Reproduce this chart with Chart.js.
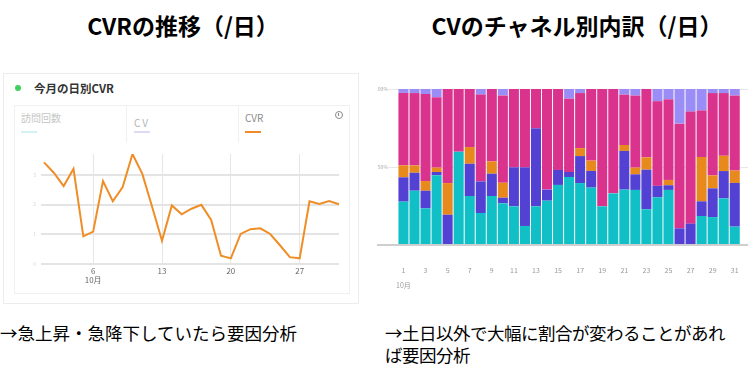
<!DOCTYPE html>
<html><head><meta charset="utf-8">
<script src="https://cdn.jsdelivr.net/npm/chart.js@4.4.1/dist/chart.umd.min.js"></script>
<style>
html,body{margin:0;padding:0;}
body{width:750px;height:381px;background:#fff;position:relative;overflow:hidden;font-family:"Noto Sans CJK JP","Noto Sans",sans-serif;color:#000;}
.a{position:absolute;white-space:nowrap;}
.title{font-weight:bold;font-size:23px;line-height:23px;text-align:center;width:340px;}
.cap{font-size:17.5px;line-height:22px;}
</style></head><body>

<div class="a title" style="left:13px;top:14px;">CVRの推移（/日）</div>
<div class="a title" style="left:407px;top:14px;">CVのチャネル別内訳（/日）</div>

<!-- left card -->
<div class="a" style="left:3px;top:73px;width:356px;height:231px;border:1px solid #ececec;box-sizing:border-box;"></div>
<div class="a" style="left:15px;top:85px;width:6px;height:6px;border-radius:50%;background:#3fd15e;"></div>
<div class="a" style="left:34px;top:81px;font-size:11.5px;line-height:14px;font-weight:bold;color:#333;">今月の日別CVR</div>
<div class="a" style="left:14px;top:105px;width:336px;height:189px;border:1px solid #f0f0f0;box-sizing:border-box;"></div>
<div class="a" style="left:126px;top:106px;width:1px;height:37px;background:#f0f0f0;"></div>
<div class="a" style="left:238px;top:106px;width:1px;height:37px;background:#f0f0f0;"></div>
<div class="a" style="left:21px;top:112px;font-size:10px;line-height:12px;color:#c6c6c6;">訪問回数</div>
<div class="a" style="left:134px;top:117px;font-size:10px;line-height:12px;color:#b3b3b3;letter-spacing:2px;">CV</div>
<div class="a" style="left:245px;top:112px;font-size:10px;line-height:12px;color:#8a8a8a;">CVR</div>
<div class="a" style="left:21px;top:131px;width:16px;height:2px;background:#d4f2f2;"></div>
<div class="a" style="left:134px;top:131px;width:16px;height:2px;background:#dedaf6;"></div>
<div class="a" style="left:245px;top:131px;width:16px;height:2px;background:#f08a26;"></div>
<div class="a" style="left:335px;top:111px;width:6px;height:6px;border:1px solid #8a8a8a;border-radius:50%;"></div>
<div class="a" style="left:338px;top:113px;width:1px;height:3px;background:#8a8a8a;"></div>

<div class="a" style="left:14px;top:143px;width:335px;height:150px;"><canvas id="c1"></canvas></div>
<div class="a" style="left:365px;top:80px;width:385px;height:210px;"><canvas id="c2"></canvas></div>

<div class="a cap" style="left:0px;top:322px;">→急上昇・急降下していたら要因分析</div>
<div class="a cap" style="left:385px;top:322px;letter-spacing:-0.5px;">→土日以外で大幅に割合が変わることがあれ<br>ば要因分析</div>

<script>
// ---- data ----
const days = [1,2,3,4,5,6,7,8,9,10,11,12,13,14,15,16,17,18,19,20,21,22,23,24,25,26,27,28,29,30,31];
const monthLabel = '10月';
// left: daily CVR
const cvr = [3.42,3.07,2.62,3.20,0.93,1.09,2.79,2.11,2.59,3.70,3.03,1.92,0.78,1.97,1.67,1.86,1.99,1.48,0.28,0.19,1.01,1.17,1.20,1.01,0.63,0.23,0.19,2.11,2.02,2.12,2.01];
const cvrTickDays = [6,13,20,27];
const cvrYTicks = [0,1,2,3];
// right: channel share of CV (%), bottom to top
const chTeal    = [27.8,34.8,23.5,44.7,0,59.8,31.4,20.5,31.4,26.7,24.8,12.2,24.8,28.4,38.5,43.6,39.7,36.8,24.8,33.1,35.5,35.3,22.9,30.6,35.3,0,0,18.6,17.9,29.9,11.8];
const chBlue    = [15.6,11.5,11.3,2.1,19.4,0,20.7,20.3,14.3,3.6,25.0,37.6,50.0,7.1,9.6,3.2,17.3,10.7,0,0,24.8,10.0,25.4,7.3,3.0,10.7,13.7,9.4,18.4,17.5,28.0];
const chOrange  = [7.7,4.7,6.2,2.8,20.3,0,10.7,0,7.9,9.6,0,0,0,0,0,0,5.1,6.6,0,0,3.8,4.3,7.9,0,3.4,0,0,28.4,8.3,9.8,7.9];
const chMagenta = [46.4,46.4,55.8,45.1,60.3,40.2,37.2,55.6,46.4,56.0,50.2,50.2,25.2,64.5,51.9,47.0,35.3,45.9,75.2,66.9,32.3,46.2,43.8,54.3,51.7,67.1,71.8,29.9,52.8,40.2,48.1];
const chLavender= [2.6,2.6,3.2,5.3,0,0,0,3.6,0,4.1,0,0,0,0,0,6.2,2.6,0,0,0,3.6,4.3,0,7.9,6.6,22.2,14.5,13.7,2.6,2.6,4.3];
const chNames = ['チャネルA','チャネルB','チャネルC','チャネルD','チャネルE'];
const shareTickDays = [1,3,5,7,9,11,13,15,17,19,21,23,25,27,29,31];
const shareYTicks = [0,50,100];

const FONT = '"Noto Sans CJK JP","Noto Sans",sans-serif';
Chart.defaults.font.family = FONT;
Chart.defaults.animation = false;

// ---- left chart ----
new Chart(document.getElementById('c1'), {
  type: 'line',
  data: {
    labels: days.map(String),
    datasets: [{
      data: cvr, borderColor: '#ef8d27', borderWidth: 2, pointRadius: 0,
      tension: 0, fill: false
    }]
  },
  options: {
    responsive: true, maintainAspectRatio: false,
    layout: { padding: { left: 0, right: 10, top: 11, bottom: 0 } },
    plugins: { legend: { display: false }, tooltip: { enabled: false } },
    scales: {
      x: {
        offset: false,
        border: { display: false },
        grid: {
          drawTicks: false, lineWidth: 1,
          color: c => (c.index !== undefined && cvrTickDays.includes(days[c.index])) ? '#e6e6e6' : 'rgba(0,0,0,0)'
        },
        ticks: {
          autoSkip: false, maxRotation: 0, padding: 2, color: '#666',
          font: { size: 8 },
          callback: (v, i) => {
            const d = days[i];
            if (!cvrTickDays.includes(d)) return '';
            return d === cvrTickDays[0] ? [String(d), monthLabel] : String(d);
          }
        },
        afterFit: s => { s.height = 29; }
      },
      y: {
        min: 0, max: 3.7,
        border: { display: false },
        afterBuildTicks: s => { s.ticks = cvrYTicks.map(v => ({ value: v })); },
        grid: { color: '#e4e4e4', lineWidth: 2, drawTicks: true, tickLength: 3, tickColor: '#e4e4e4' },
        ticks: { color: '#d6d6d6', font: { size: 5 }, padding: 5, callback: v => String(v) },
        afterFit: s => { s.width = 30; }
      }
    }
  }
});

// ---- right chart ----
const chColors = ['#10c0c6','#5241d3','#e8891d','#d9338e','#9a8ef6'];
const chSeries = [chTeal, chBlue, chOrange, chMagenta, chLavender];
new Chart(document.getElementById('c2'), {
  type: 'bar',
  data: {
    datasets: chSeries.map((arr, k) => ({
      label: chNames[k],
      data: days.map((d, i) => ({ x: d, y: arr[i] })),
      backgroundColor: chColors[k],
      borderWidth: 0,
      stack: 'share',
      barPercentage: 1,
      categoryPercentage: 0.91
    }))
  },
  options: {
    responsive: true, maintainAspectRatio: false,
    layout: { padding: { left: 12, right: 2, top: 9, bottom: 0 } },
    plugins: { legend: { display: false }, tooltip: { enabled: false } },
    scales: {
      x: {
        type: 'linear', min: -0.4, max: 32.2, offset: false,
        border: { display: false },
        grid: { display: false, offset: false },
        afterBuildTicks: s => { s.ticks = shareTickDays.map(v => ({ value: v })); },
        ticks: {
          autoSkip: false, maxRotation: 0, padding: 10, color: '#9a9a9a',
          font: { size: 7, lineHeight: 2.14 },
          callback: v => v === shareTickDays[0] ? [String(v), monthLabel] : String(v)
        },
        afterFit: s => { s.height = 45; }
      },
      y: {
        stacked: true, min: 0, max: 100,
        border: { display: false },
        afterBuildTicks: s => { s.ticks = shareYTicks.map(v => ({ value: v })); },
        grid: {
          drawTicks: true, tickLength: 11,
          color: c => c.tick && c.tick.value === 0 ? '#cfcfcf' : '#e8e8e8',
          lineWidth: c => c.tick && c.tick.value === 0 ? 2 : 1,
          tickColor: c => c.tick && c.tick.value === 0 ? '#cfcfcf' : 'rgba(0,0,0,0)'
        },
        ticks: {
          color: '#a8a8a8', font: { size: 5 }, padding: -11,
          callback: v => v === 0 ? '' : v + '%'
        },
        afterFit: s => { s.width = 11; }
      }
    }
  }
});
</script>
</body></html>
